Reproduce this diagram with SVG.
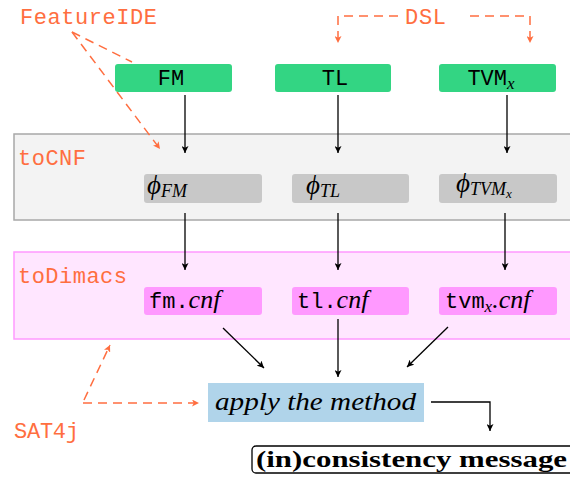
<svg xmlns="http://www.w3.org/2000/svg" width="570" height="478" viewBox="0 0 570 478">
<defs>
<marker id="ab" viewBox="0 0 10 10" refX="10" refY="5" markerWidth="7" markerHeight="7" markerUnits="userSpaceOnUse" orient="auto"><path d="M0,0 L10,5 L0,10 L2.5,5 Z" fill="#000"/></marker>
<marker id="ao" viewBox="0 0 10 10" refX="10" refY="5" markerWidth="7" markerHeight="7" markerUnits="userSpaceOnUse" orient="auto"><path d="M0,0 L10,5 L0,10 L2.5,5 Z" fill="#ff6e40"/></marker>
<style>
.tt{font-family:"Liberation Mono","DejaVu Sans Mono",monospace;font-size:22px}
.lab{fill:#ff6e40}
.mi{font-family:"Liberation Serif","DejaVu Serif",serif;font-style:italic}
.green{fill:#33d583}
.gray{fill:#c8c8c8}
.pink{fill:#ff99ff}
.c{stroke:#000;stroke-width:1.3;fill:none;marker-end:url(#ab)}
.d{stroke:#ff6e40;stroke-width:1.5;fill:none;stroke-dasharray:9 6}
.da{marker-end:url(#ao)}
</style>
</defs>
<rect x="0" y="0" width="570" height="478" fill="#fff"/>

<g id="toCNF">
<rect x="14" y="134" width="570" height="86" fill="#f3f3f3" stroke="#a8a8a8" stroke-width="1.5"/>
<text x="18" y="165" class="tt lab" textLength="68">toCNF</text>
</g>
<g id="toDimacs">
<rect x="14" y="252" width="570" height="87" fill="#ffe6ff" stroke="#ff99ff" stroke-width="1.5"/>
<text x="18" y="283" class="tt lab" textLength="109">toDimacs</text>
</g>

<g id="FeatureIDE"><text x="20" y="24" class="tt lab" textLength="137">FeatureIDE</text></g>
<g id="DSL"><text x="405" y="24" class="tt lab" textLength="41">DSL</text></g>
<g id="SAT4j"><text x="14" y="438" class="tt lab" textLength="65">SAT4j</text></g>

<g id="FM"><rect x="115" y="64" width="117" height="28" rx="3" class="green"/><text x="171" y="85" class="tt" text-anchor="middle">FM</text></g>
<g id="TL"><rect x="275" y="64" width="116" height="28" rx="3" class="green"/><text x="335" y="85" class="tt" text-anchor="middle">TL</text></g>
<g id="TVMx"><rect x="439" y="64" width="117" height="28" rx="3" class="green"/><text x="491" y="85" class="tt" text-anchor="middle">TVM<tspan class="mi" font-size="17" dy="4">x</tspan></text></g>

<g id="phiFM"><rect x="144" y="174" width="118" height="29" rx="3" class="gray"/><text x="147" y="194" class="mi" font-size="27">ϕ<tspan font-size="18" dy="3">FM</tspan></text></g>
<g id="phiTL"><rect x="292" y="174" width="117" height="29" rx="3" class="gray"/><text x="306" y="194" class="mi" font-size="27">ϕ<tspan font-size="18" dy="3">TL</tspan></text></g>
<g id="phiTVMx"><rect x="439" y="174" width="118" height="29" rx="3" class="gray"/><text x="456" y="192" class="mi" font-size="27">ϕ<tspan font-size="18" dy="3">TVM</tspan><tspan font-size="13" dy="3">x</tspan></text></g>

<g id="fmcnf"><rect x="144" y="287" width="118" height="28" rx="3" class="pink"/><text x="149" y="308"><tspan class="tt">fm.</tspan><tspan class="mi" font-size="26">cnf</tspan></text></g>
<g id="tlcnf"><rect x="292" y="287" width="117" height="28" rx="3" class="pink"/><text x="297" y="308"><tspan class="tt">tl.</tspan><tspan class="mi" font-size="26">cnf</tspan></text></g>
<g id="tvmcnf"><rect x="439" y="287" width="118" height="28" rx="3" class="pink"/><text x="445" y="308"><tspan class="tt">tvm</tspan><tspan class="mi" font-size="17" dy="4">x</tspan><tspan class="mi" font-size="26" dy="-4">.cnf</tspan></text></g>

<g id="apply"><rect x="208" y="383" width="216" height="39" fill="#b0d4ea"/><text x="215" y="410" class="mi" font-size="25" textLength="201" lengthAdjust="spacingAndGlyphs">apply the method</text></g>

<g id="message"><rect x="252" y="446" width="330" height="27" rx="4" fill="#fff" stroke="#000" stroke-width="1.3"/><text x="256" y="467" font-family="Liberation Serif,DejaVu Serif,serif" font-weight="bold" font-size="24" textLength="311" lengthAdjust="spacingAndGlyphs">(in)consistency message</text></g>

<g id="connectors">
<line x1="185" y1="95" x2="185" y2="153" class="c"/>
<line x1="338" y1="95" x2="338" y2="153" class="c"/>
<line x1="507" y1="95" x2="507" y2="153" class="c"/>
<line x1="185" y1="213" x2="185" y2="270" class="c"/>
<line x1="338" y1="213" x2="338" y2="270" class="c"/>
<line x1="505" y1="213" x2="505" y2="270" class="c"/>
<line x1="223" y1="328" x2="264" y2="368" class="c"/>
<line x1="338" y1="319" x2="338" y2="377" class="c"/>
<line x1="448" y1="327" x2="407" y2="367" class="c"/>
<path d="M431,402 H490 V431" class="c"/>
<path d="M72,32 L132,62" class="d"/>
<path d="M72,32 L160,149" class="d da"/>
<path d="M398,16 H338 V43" class="d da"/>
<path d="M470,16 H530 V43" class="d da"/>
<path d="M83,403 H199" class="d da"/>
<path d="M84,400 L110,345" class="d da"/>
</g>
</svg>
